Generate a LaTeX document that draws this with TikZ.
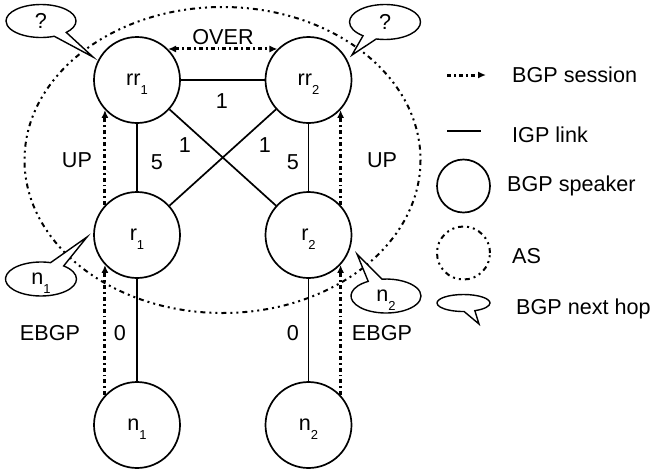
\documentclass[tikz,border=0pt]{standalone}
\usepackage{fontspec}
\setmainfont{Liberation Sans}
\usetikzlibrary{arrows.meta,shapes.callouts,shapes.geometric}
\newcommand\subn[1]{\raisebox{-0.42em}[0pt][0pt]{\fontsize{13}{13}\selectfont #1}}
\begin{document}
\begin{tikzpicture}[x=1pt,y=-1pt,
  every node/.style={font=\fontsize{21.6}{24}\selectfont},
  speaker/.style={circle,draw,line width=1.7pt,minimum size=86pt,inner sep=0pt},
  igp/.style={line width=1.7pt},
  bgp/.style={line width=3pt,dash pattern=on 4pt off 3pt on 1.8pt off 3pt,-{Latex[length=8pt,width=7pt]}},
  bgpboth/.style={bgp,{Latex[length=8pt,width=7pt]}-{Latex[length=8pt,width=7pt]}},
  asline/.style={line width=2pt,dash pattern=on 5pt off 4pt on 2pt off 4pt on 2pt off 4pt},
  bubble/.style={ellipse callout,draw,fill=white,line width=1.4pt,inner sep=0pt,callout pointer arc=24},
  lbl/.style={inner sep=1pt}
]
\useasboundingbox (0,0) rectangle (652,472);

% AS ellipse
\draw[asline] (222.5,160) ellipse [x radius=198, y radius=153];

% speakers
\node[speaker] (rr1) at (137,80) {rr\subn{1}};
\node[speaker] (rr2) at (308.5,80) {rr\subn{2}};
\node[speaker] (r1) at (137,235) {r\subn{1}};
\node[speaker] (r2) at (308.5,235) {r\subn{2}};
\node[speaker] (n1) at (137,425) {n\subn{1}};
\node[speaker] (n2) at (308.5,425) {n\subn{2}};

% IGP links
\draw[igp] (rr1) -- (rr2);
\draw[igp] (rr1) -- (r1);
\draw[igp] (rr2) -- (r2);
\draw[igp] (rr1) -- (r2);
\draw[igp] (r1) -- (rr2);
\draw[igp] (r1) -- (n1);
\draw[igp] (r2) -- (n2);

% BGP sessions
\draw[bgpboth] (rr1.45) -- (rr2.135);
\draw[bgp] (r1.137) -- (rr1.223);
\draw[bgp] (n1.137) -- (r1.223);
\draw[bgp] (r2.43) -- (rr2.-43);
\draw[bgp] (n2.43) -- (r2.-43);

% labels
\node[lbl] (lover) at (223,37) {OVER};
\node[lbl] (l1a) at (222,101) {1};
\node[lbl] (l1b) at (185,145) {1};
\node[lbl] (l1c) at (265,145) {1};
\node[lbl] (l5a) at (157,162) {5};
\node[lbl] (l5b) at (293,162) {5};
\node[lbl] (lupa) at (77,160) {UP};
\node[lbl] (lupb) at (382,160) {UP};
\node[lbl] (l0a) at (120,333) {0};
\node[lbl] (l0b) at (293,333) {0};
\node[lbl] (leba) at (50,333) {EBGP};
\node[lbl] (lebb) at (382,333) {EBGP};

% next hop bubbles
\coordinate (t1) at (93,57);
\coordinate (t2) at (352,55);
\coordinate (t3) at (87,237);
\coordinate (t4) at (357,254);
\node[bubble,minimum width=70pt,minimum height=33pt,callout absolute pointer={(t1)}] (b1) at (41,21) {?};
\node[bubble,minimum width=71pt,minimum height=35pt,callout absolute pointer={(t2)}] (b2) at (385,22) {?};
\node[bubble,minimum width=71pt,minimum height=34pt,callout absolute pointer={(t3)}] (b3) at (41,279) {n\subn{1}};
\node[bubble,minimum width=70pt,minimum height=34pt,callout absolute pointer={(t4)}] (b4) at (386,296) {n\subn{2}};

% legend
\coordinate (ls1) at (447,75);
\coordinate (ls2) at (486,75);
\draw[bgp] (ls1) -- (ls2);
\node[lbl,anchor=west] (lt1) at (511,75) {BGP session};
\coordinate (li1) at (447,131);
\coordinate (li2) at (481,131);
\draw[igp] (li1) -- (li2);
\node[lbl,anchor=west] (lt2) at (511,135) {IGP link};
\node[circle,draw,line width=1.7pt,minimum size=53pt,inner sep=0pt] (lc) at (463.5,186) {};
\node[lbl,anchor=west] (lt3) at (506,186) {BGP speaker};
\node[circle,asline,draw,minimum size=53pt,inner sep=0pt] (la) at (463.5,253) {};
\node[lbl,anchor=west] (lt4) at (511,256) {AS};
\coordinate (t5) at (479,324);
\node[bubble,minimum width=53pt,minimum height=17pt,callout absolute pointer={(t5)}] (lb) at (463.5,303) {};
\node[lbl,anchor=west] (lt5) at (515,309) {BGP next hop};
\end{tikzpicture}
\end{document}
